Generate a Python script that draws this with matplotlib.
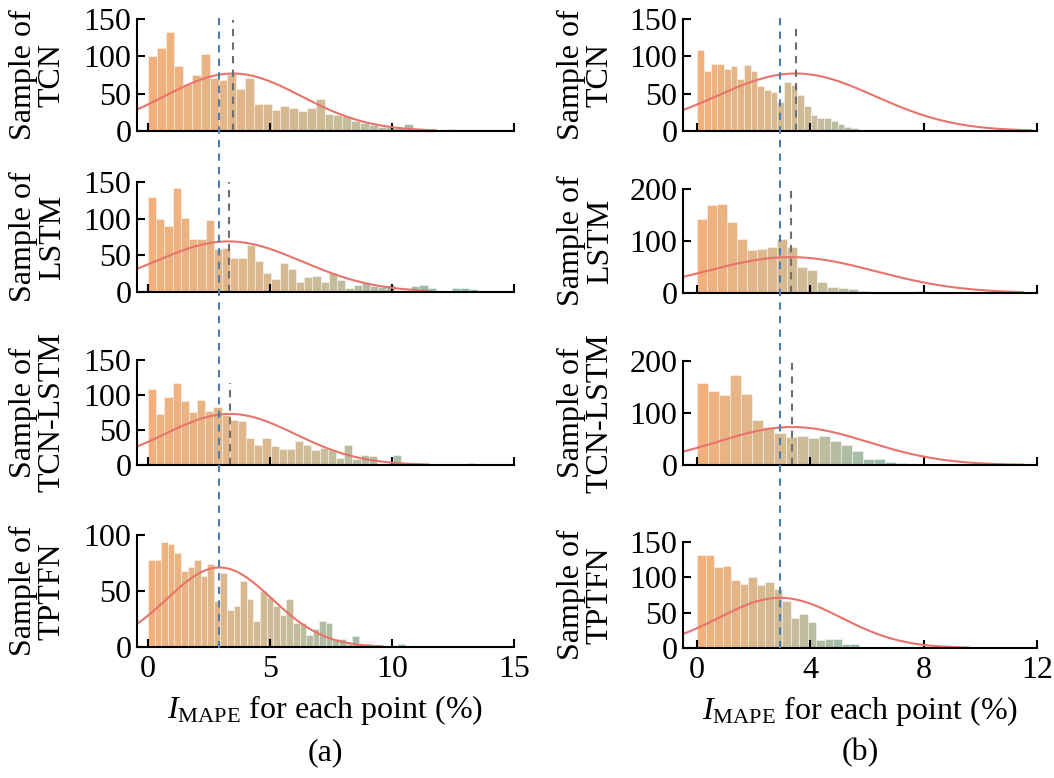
import numpy as np
import matplotlib
matplotlib.use('Agg')
import matplotlib.pyplot as plt
from matplotlib.colors import LinearSegmentedColormap
from matplotlib.lines import Line2D
from matplotlib.transforms import blended_transform_factory

plt.rcParams['font.family'] = ['Liberation Serif', 'DejaVu Serif']
plt.rcParams['mathtext.fontset'] = 'custom'
plt.rcParams['mathtext.rm'] = 'Liberation Serif'
plt.rcParams['mathtext.it'] = 'Liberation Serif:italic'

models = ['TCN', 'LSTM', 'TCN-LSTM', 'TPTFN']

# histogram counts, column (a)
tcn_a = [101, 111, 133, 87, 63, 75, 103, 71, 68, 76, 56, 71, 36, 36, 28, 34, 31, 27, 31, 43,
         23, 22, 20, 14, 11, 8, 6, 5, 6, 9, 3, 1, 1, 1, 3, 1, 2, 1, 2, 1]
lstm_a = [130, 100, 90, 142, 101, 72, 72, 98, 58, 60, 46, 46, 64, 42, 26, 18, 40, 32, 14, 20,
          22, 14, 26, 16, 5, 10, 12, 8, 7, 10, 2, 1, 8, 10, 5, 0, 1, 6, 6, 4]
tcnlstm_a = [109, 73, 97, 117, 91, 76, 93, 77, 83, 71, 65, 63, 38, 29, 38, 27, 23, 23, 35, 29,
             21, 24, 21, 10, 29, 8, 15, 13, 2, 1, 15, 1, 3, 3, 1, 1, 1, 1, 0, 3]
tptfn_a = [78, 78, 94, 92, 84, 68, 71, 78, 63, 74, 41, 66, 33, 37, 59, 43, 23, 50, 45, 37,
           29, 43, 21, 21, 11, 16, 23, 21, 7, 7, 3, 10, 3, 3, 1, 0, 0, 1, 3]

# histogram counts, column (b)
tcn_b = [108, 81, 90, 90, 83, 87, 70, 89, 81, 60, 55, 52, 39, 65, 62, 48, 34, 21, 18, 18,
         13, 9, 5, 4, 2, 0, 0, 0, 0, 0, 1, 0, 2]
lstm_b = [142, 170, 172, 137, 104, 83, 84, 89, 104, 89, 50, 44, 21, 12, 10, 7, 3, 0, 0, 0,
          0, 0, 4]
tcnlstm_b = [158, 142, 135, 174, 136, 86, 73, 61, 53, 56, 52, 56, 46, 38, 27, 12, 12, 6, 4]
tptfn_b = [131, 132, 114, 116, 96, 91, 101, 89, 93, 83, 67, 43, 48, 37, 12, 13, 13, 6, 6, 2, 1]

# bin widths (% units)
bins_a = [0.362, 0.337, 0.335, 0.27]
bins_b = [0.236, 0.354, 0.39, 0.30]

# fitted normal curves per model: mean, std, peak count, curve end
fit_mean = [3.48, 3.30, 3.36, 2.93]
fit_std = [2.8, 3.0, 2.67, 2.15]
fit_peak = [77, 69, 73, 71]
fit_end = [11.8, 11.5, 11.5, 9.6]

# height of the grey mean markers (None = hidden under the blue line)
mean_h_a = [148, 150, 117, None]
mean_h_b = [138, 198, 198, None]

yticks_a = [[0, 50, 100, 150], [0, 50, 100, 150], [0, 50, 100, 150], [0, 50, 100]]
yticks_b = [[0, 50, 100, 150], [0, 100, 200], [0, 100, 200], [0, 50, 100, 150]]

cmap = LinearSegmentedColormap.from_list('hist', ['#F4B07B', '#CDBC98', '#84BDB3'])

FS = 23
W, H = 1054, 778
fig = plt.figure(figsize=(W / 100, H / 100), dpi=100)

# axes boxes in pixels: (left, right, tops, bottoms)
cols = [
    (137, 514, [19, 182, 360, 535], [131, 292, 465, 647], (-0.45, 15), [0, 5, 10, 15],
     [tcn_a, lstm_a, tcnlstm_a, tptfn_a], bins_a, yticks_a, mean_h_a, '(a)', -0.186),
    (683, 1037, [19, 189, 361, 542], [131, 293, 465, 648], (-0.5, 12), [0, 4, 8, 12],
     [tcn_b, lstm_b, tcnlstm_b, tptfn_b], bins_b, yticks_b, mean_h_b, '(b)', -0.193),
]

for x0, x1, tops, bots, xlim, xticks, data, widths, yt, mh, tag, lab_x in cols:
    axes = []
    for i in range(4):
        ax = fig.add_axes([x0 / W, 1 - bots[i] / H, (x1 - x0) / W, (bots[i] - tops[i]) / H])
        axes.append(ax)
        counts = np.array(data[i], dtype=float)
        w = widths[i]
        edges = np.arange(len(counts)) * w
        t = (edges + w / 2) / (len(counts) * w)
        ax.bar(edges, counts, width=w, align='edge', color=cmap(t),
               edgecolor=(1, 1, 1, 0.5), linewidth=0.6, zorder=1)

        xs = np.linspace(xlim[0], fit_end[i], 300)
        ys = fit_peak[i] * np.exp(-(xs - fit_mean[i]) ** 2 / (2 * fit_std[i] ** 2))
        ax.plot(xs, ys, color='#E8736A', lw=1.5, zorder=3)

        if mh[i] is not None:
            ax.plot([fit_mean[i], fit_mean[i]], [0, mh[i]], color='#6E6E6E',
                    lw=1.5, ls=(0, (3.5, 3)), zorder=4)

        ax.set_xlim(*xlim)
        ax.set_ylim(0, yt[i][-1])
        ax.set_xticks(xticks)
        ax.set_yticks(yt[i])
        for s in ['top', 'right']:
            ax.spines[s].set_visible(False)
        for s in ['left', 'bottom']:
            ax.spines[s].set_linewidth(1.5)
            ax.spines[s].set_zorder(5)
        ax.tick_params(direction='in', length=6, width=1.5, labelsize=FS, pad=4)
        ax.tick_params(axis='x', pad=6)
        if i < 3:
            ax.set_xticklabels([])
        ax.set_ylabel('Sample of\n' + models[i], fontsize=FS, linespacing=1.0)
        ax.yaxis.set_label_coords(lab_x, 0.5)

    # blue reference line through the whole column
    trans = blended_transform_factory(axes[-1].transData, fig.transFigure)
    fig.add_artist(Line2D([fit_mean[3], fit_mean[3]], [1 - 18 / H, 1 - 648 / H],
                          transform=trans, color='#4C7DB0', lw=1.5, ls=(0, (3.5, 3)), zorder=6))

    axes[-1].set_xlabel(r'$I_{\mathrm{MAPE}}$ for each point (%)', fontsize=FS, labelpad=6)
    fig.text((x0 + x1) / 2 / W, 1 - 753 / H, tag, fontsize=FS, ha='center', va='center')

fig.savefig('out.png', dpi=100)
